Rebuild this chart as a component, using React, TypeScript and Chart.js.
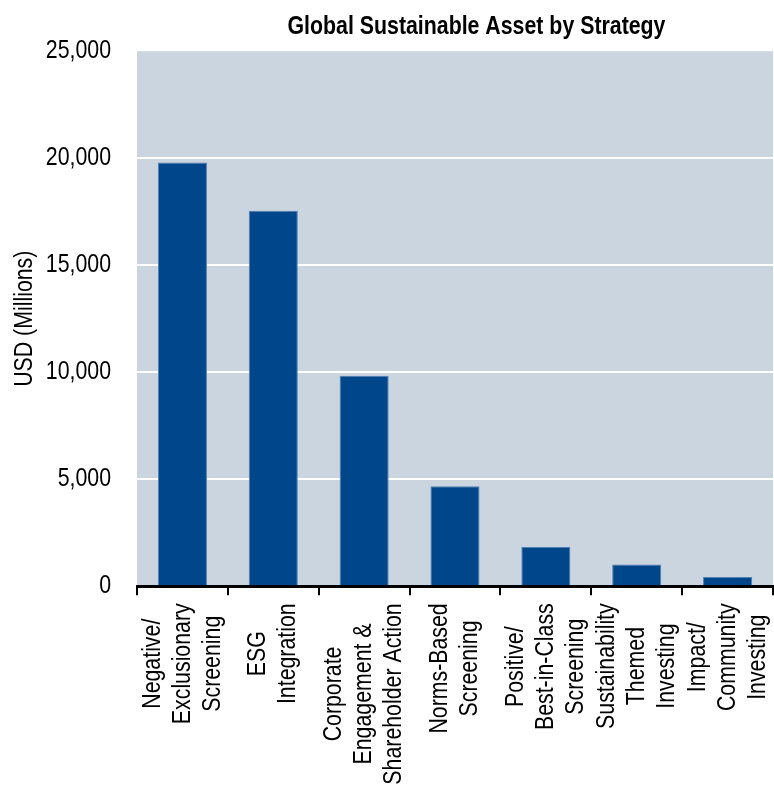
import React, { useEffect, useRef } from "react";
import { Chart, registerables } from "chart.js";

Chart.register(...registerables);

const chartTitle = "Global Sustainable Asset by Strategy";
const yAxisTitle = "USD (Millions)";
const categories: string[][] = [
  ["Negative/", "Exclusionary", "Screening"],
  ["ESG", "Integration"],
  ["Corporate", "Engagement &", "Shareholder Action"],
  ["Norms-Based", "Screening"],
  ["Positive/", "Best-in-Class", "Screening"],
  ["Sustainability", "Themed", "Investing"],
  ["Impact/", "Community", "Investing"],
];
const assetValues = [19800, 17550, 9840, 4680, 1840, 1020, 440];
const yMin = 0;
const yMax = 25000;
const yStep = 5000;

const FONT = '"Liberation Sans", Arial, sans-serif';
const NARROW = 0.82; // emulate a narrow sans face

function narrowText(ctx: any) {
  if (ctx.__narrow) return;
  ctx.__narrow = true;
  const origFill = ctx.fillText.bind(ctx);
  const origMeasure = ctx.measureText.bind(ctx);
  ctx.fillText = (t: string, x: number, y: number, maxW?: number) => {
    ctx.save();
    ctx.translate(x, y);
    ctx.scale(NARROW, 1);
    if (maxW !== undefined && maxW !== null) origFill(t, 0, 0, maxW / NARROW);
    else origFill(t, 0, 0);
    ctx.restore();
  };
  ctx.measureText = (t: string) => {
    const m = origMeasure(t);
    return {
      width: m.width * NARROW,
      actualBoundingBoxAscent: m.actualBoundingBoxAscent,
      actualBoundingBoxDescent: m.actualBoundingBoxDescent,
      actualBoundingBoxLeft: m.actualBoundingBoxLeft * NARROW,
      actualBoundingBoxRight: m.actualBoundingBoxRight * NARROW,
    };
  };
}

const plotBgAndLabels = {
  id: "plotBgAndLabels",
  beforeDraw(chart: any) {
    const { ctx, chartArea } = chart;
    ctx.save();
    ctx.fillStyle = "#cbd5df";
    ctx.fillRect(chartArea.left, chartArea.top, chartArea.right - chartArea.left, chartArea.bottom - chartArea.top);
    // center multi-line rotated labels on their ticks
    const sc = chart.scales.x;
    const items = sc.getLabelItems(chartArea);
    items.forEach((it: any) => {
      if (it._adj) return;
      it._adj = true;
      const lines: string[] = Array.isArray(it.label) ? it.label : [it.label];
      ctx.font = it.font.string;
      const w = Math.max(...lines.map((l) => ctx.measureText(l).width));
      const lh = it.font.lineHeight;
      const tr = it.options.translation;
      it.options.translation = [tr[0] - ((lines.length - 1) * lh) / 2, tr[1] + w / 2];
      it.options.textAlign = "center";
    });
    ctx.restore();
  },
  afterLayout(chart: any) {
    const tb = chart.titleBlock;
    if (tb) {
      tb.left = tb.left + 180;
    }
  },
};

export default function App() {
  const ref = useRef<HTMLCanvasElement>(null);
  useEffect(() => {
    if (!ref.current) return;
    narrowText(ref.current.getContext("2d"));
    const chart = new Chart(ref.current, {
      type: "bar",
      data: {
        labels: categories,
        datasets: [
          {
            data: assetValues,
            backgroundColor: "#00468b",
            borderColor: "#4f7fb3",
            borderWidth: 1,
            categoryPercentage: 1,
            barPercentage: 0.54,
          },
        ],
      },
      plugins: [plotBgAndLabels],
      options: {
        responsive: false,
        animation: false,
        layout: { padding: { right: 1 } },
        plugins: {
          legend: { display: false },
          tooltip: { enabled: false },
          title: {
            display: true,
            text: chartTitle,
            color: "#000",
            font: { family: FONT, size: 26, weight: "bold", lineHeight: 1.2 },
            padding: { top: 11, bottom: 9 },
          },
        },
        scales: {
          x: {
            grid: {
              offset: true,
              drawOnChartArea: false,
              drawTicks: true,
              tickLength: 9,
              color: "#000",
              lineWidth: 2,
            },
            border: { display: true, color: "#000", width: 3 },
            ticks: {
              autoSkip: false,
              maxRotation: 90,
              minRotation: 90,
              padding: 8,
              color: "#000",
              font: { family: FONT, size: 26, lineHeight: 1.154 },
            },
            afterFit(scale: any) {
              scale.height = 199.7;
              scale.paddingLeft = 0;
              scale.paddingRight = 0;
            },
          },
          y: {
            min: yMin,
            max: yMax,
            ticks: {
              stepSize: yStep,
              padding: 26,
              color: "#000",
              font: { family: FONT, size: 26 },
            },
            grid: {
              drawTicks: false,
              lineWidth: 2,
              color: (c: any) =>
                c.tick && (c.tick.value === yMin || c.tick.value === yMax) ? "rgba(0,0,0,0)" : "#ffffff",
            },
            border: { display: false },
            title: {
              display: true,
              text: yAxisTitle,
              color: "#000",
              font: { family: FONT, size: 26, lineHeight: 1.2 },
              padding: { top: 9, bottom: 0 },
            },
            afterFit(scale: any) {
              scale.width = 137;
            },
          },
        },
      },
    });
    return () => chart.destroy();
  }, []);
  return (
    <div style={{ position: "fixed", left: 0, top: 0, width: 774, height: 786 }}>
      <canvas ref={ref} width={774} height={786} />
    </div>
  );
}
